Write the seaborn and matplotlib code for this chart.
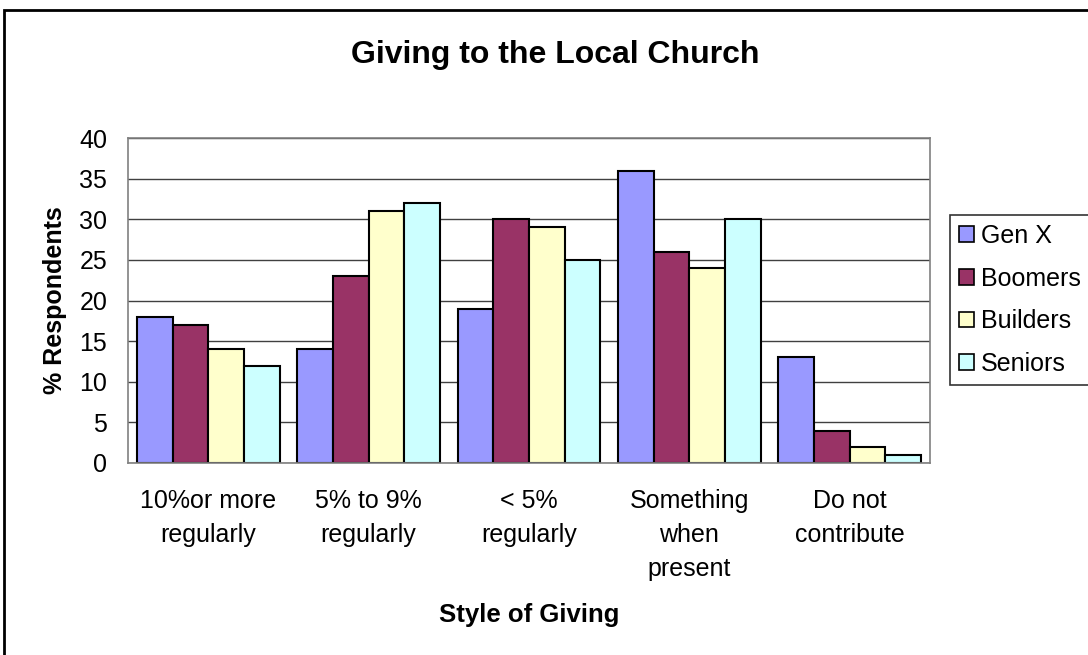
import matplotlib
matplotlib.use("Agg")
import matplotlib.pyplot as plt
import seaborn as sns
import pandas as pd
from matplotlib.patches import Rectangle

categories = ["10%or more\nregularly", "5% to 9%\nregularly", "< 5%\nregularly",
              "Something\nwhen\npresent", "Do not\ncontribute"]
series = ["Gen X", "Boomers", "Builders", "Seniors"]
gen_x = [18, 14, 19, 36, 13]
boomers = [17, 23, 30, 26, 4]
builders = [14, 31, 29, 24, 2]
seniors = [12, 32, 25, 30, 1]
colors = ["#9999FF", "#993366", "#FFFFCC", "#CCFFFF"]

rows = []
for name, vals in zip(series, [gen_x, boomers, builders, seniors]):
    for c, v in zip(categories, vals):
        rows.append({"Style": c, "Group": name, "Value": v})
df = pd.DataFrame(rows)

sns.set_style("white")
plt.rcParams['font.family'] = ['Liberation Sans', 'DejaVu Sans']
plt.rcParams['text.color'] = 'black'
plt.rcParams['xtick.color'] = 'black'
plt.rcParams['ytick.color'] = 'black'
plt.rcParams['axes.labelcolor'] = 'black'

fig = plt.figure(figsize=(10.88, 6.55), dpi=100)
ax = fig.add_axes([128/1088, 1-463/655, (930-128)/1088, (463-138)/655])

sns.barplot(data=df, x="Style", y="Value", hue="Group", hue_order=series,
            order=categories, palette=colors, edgecolor="black", linewidth=1.5,
            width=0.89, saturation=1, gap=0, ax=ax, errorbar=None)

ax.set_ylim(0, 40)
ax.set_xlim(-0.5, 4.5)
ax.set_yticks(range(0, 41, 5))
ax.yaxis.grid(True, color="#404040", linewidth=1)
ax.set_axisbelow(True)
for s in ["top", "right", "left", "bottom"]:
    ax.spines[s].set_color("#808080")
    ax.spines[s].set_linewidth(1.2)
ax.tick_params(axis="y", labelsize=18, length=0, pad=15)
ax.tick_params(axis="x", labelsize=18, length=0, pad=19)
for lbl in ax.get_xticklabels():
    lbl.set_linespacing(1.52)
ax.set_xlabel("Style of Giving", fontsize=18.5, fontweight="bold", labelpad=16)
ax.set_ylabel("% Respondents", fontsize=18, fontweight="bold", labelpad=9)

fig.text(555/1088, 1-55/655, "Giving to the Local Church", fontsize=23,
         fontweight="bold", ha="center", va="center")

leg = ax.legend(loc="upper left", bbox_to_anchor=(950/1088, 1-215/655),
                bbox_transform=fig.transFigure, frameon=True, fancybox=False,
                fontsize=18, handlelength=0.6, handleheight=0.6,
                handletextpad=0.3, labelspacing=0.75, borderpad=0.35,
                borderaxespad=0)
leg.get_frame().set_edgecolor("black")
leg.get_frame().set_linewidth(1.2)
for h in leg.legend_handles:
    h.set_edgecolor("black")
    h.set_linewidth(1.2)

fig.patches.append(Rectangle((4/1088, -0.1), 1.2, 1-10/655+0.1,
                             transform=fig.transFigure, fill=False,
                             edgecolor="black", linewidth=2))

fig.savefig("out.png", dpi=100)
